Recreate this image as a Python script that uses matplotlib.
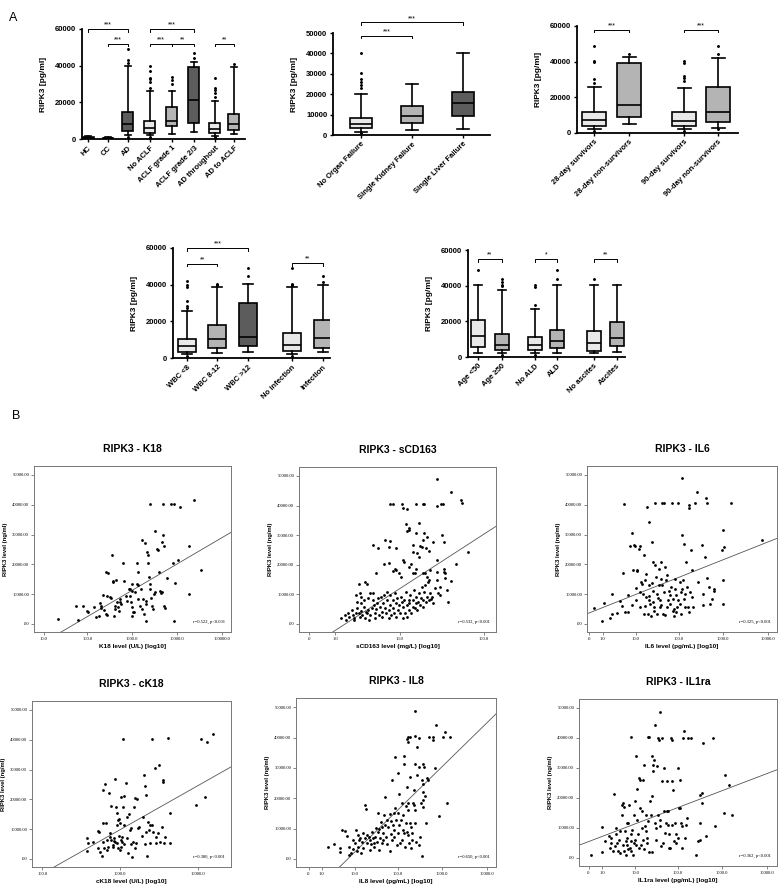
import numpy as np
import matplotlib
matplotlib.use('Agg')
import matplotlib.pyplot as plt
from matplotlib.ticker import NullLocator

plt.rcParams['font.family'] = ['Liberation Sans', 'DejaVu Sans']

# ---------------- Panel A: box plots (RIPK3, pg/ml) ----------------
a1_labels = ['HC', 'CC', 'AD', 'No ACLF', 'ACLF grade 1', 'ACLF grade 2/3', 'AD throughout', 'AD to ACLF']
a1_whislo = [0, 0, 2000, 2000, 2500, 4000, 1800, 3000]
a1_q1 = [300, 200, 4500, 3500, 7000, 9000, 3500, 5000]
a1_med = [600, 450, 8000, 6000, 10000, 21000, 5500, 8000]
a1_q3 = [900, 700, 15000, 10000, 17500, 39000, 8500, 13500]
a1_whishi = [1500, 1000, 40000, 26000, 26000, 42000, 20500, 39500]
a1_fliers = [[], [], [500, 1000, 41500, 43000, 49000],
             [800, 1300, 28000, 31000, 32500, 33500, 37000, 40000],
             [30000, 32000, 34000], [44000, 47000],
             [800, 1200, 23000, 25000, 26500, 28000, 33000], [41000]]
a1_sig = [(0, 2, 60000, '***'), (1, 2, 52000, '***'), (3, 5, 60000, '***'),
          (3, 4, 52000, '***'), (4, 5, 52000, '**'), (6, 7, 52000, '**')]

a2_labels = ['No Organ Failure', 'Single Kidney Failure', 'Single Liver Failure']
a2_whislo = [1500, 2500, 3000]
a2_q1 = [3500, 6000, 9500]
a2_med = [5500, 9500, 15500]
a2_q3 = [8500, 14000, 21000]
a2_whishi = [20000, 25000, 40000]
a2_fliers = [[900, 23000, 24500, 26000, 27500, 30500, 40000], [], []]
a2_sig = [(0, 1, 48700, '***'), (0, 2, 55200, '***')]

a3_labels = ['28-day survivors', '28-day non-survivors', '90-day survivors', '90-day non-survivors']
a3_whislo = [2000, 5000, 2000, 3000]
a3_q1 = [4000, 9000, 4000, 6000]
a3_med = [7500, 15500, 7000, 12000]
a3_q3 = [12000, 39500, 12000, 26000]
a3_whishi = [26000, 42500, 25000, 42000]
a3_fliers = [[1000, 28000, 30500, 40000, 40500, 49000], [44500],
             [1000, 29000, 31000, 32000, 39000, 40500], [2000, 44500, 49000]]
a3_sig = [(0, 1, 58000, '***'), (2, 3, 58000, '***')]

a4_labels = ['WBC <8', 'WBC 8-12', 'WBC >12', 'No infection', 'Infection']
a4_whislo = [2000, 3000, 3500, 2000, 3500]
a4_q1 = [3500, 5500, 6500, 4000, 5500]
a4_med = [6500, 10500, 11500, 7000, 11000]
a4_q3 = [10500, 18000, 30000, 13500, 21000]
a4_whishi = [25500, 38500, 40500, 38500, 40000]
a4_fliers = [[1000, 27500, 28500, 31000, 38500, 40000, 42000], [40000, 40500],
             [44500, 49000], [1000, 39800, 40000, 40200, 49000], [41500, 44500]]
a4_sig = [(0, 2, 60000, '***'), (0, 1, 51500, '**'), (3, 4, 51800, '**')]

a5_labels = ['Age <50', 'Age \u226550', 'No ALD', 'ALD', 'No ascites', 'Ascites']
a5_whislo = [2000, 2000, 2000, 2000, 2000, 3000]
a5_q1 = [5500, 4000, 4000, 5000, 3500, 6000]
a5_med = [12000, 7000, 6500, 9000, 8000, 10500]
a5_q3 = [21000, 13000, 11000, 15000, 14500, 19500]
a5_whishi = [40500, 37500, 27000, 40500, 40500, 40500]
a5_fliers = [[49000], [1000, 40000, 40500, 42000, 44000], [1000, 29000, 39500, 40500],
             [44000, 49000], [44000], []]
a5_sig = [(0, 1, 54800, '**'), (2, 3, 54800, '*'), (4, 5, 54800, '**')]

# ---------------- Panel B: scatter plots ----------------
# x values are log10(x + 1) of the marker level, y values RIPK3 in thousands
k18_logx = [1.36, 1.76, 1.79, 1.91, 1.99, 2.01, 2.15, 2.20, 2.27, 2.28,
            2.30, 2.32, 2.36, 2.37, 2.43, 2.44, 2.44, 2.41, 2.47, 2.56,
            2.57, 2.58, 2.65, 2.52, 2.53, 2.59, 2.61, 2.63, 2.67, 2.68,
            2.70, 2.73, 2.74, 2.76, 2.81, 2.83, 2.87, 2.89, 2.93, 2.95,
            2.96, 2.98, 3.00, 3.01, 3.02, 3.04, 2.99, 3.01, 3.07, 3.10,
            3.11, 3.13, 3.14, 3.13, 3.17, 3.19, 3.22, 3.24, 3.27, 3.30,
            3.30, 3.32, 3.22, 3.28, 3.33, 3.35, 3.36, 3.37, 3.39, 3.41,
            3.42, 3.44, 3.47, 3.48, 3.50, 3.39, 3.50, 3.56, 3.57, 3.61,
            3.63, 3.64, 3.67, 3.66, 3.68, 3.69, 3.72, 3.72, 3.74, 3.78,
            3.87, 3.91, 3.93, 3.93, 3.96, 4.02, 4.07, 4.27, 4.27, 4.38,
            4.54]
k18_ripk3 = [1.7, 5.9, 1.3, 6.1, 4.2, 3.9, 5.6, 2.2, 2.6, 7.0,
             5.2, 6.1, 9.8, 4.6, 3.3, 3.0, 9.4, 17.4, 17.2, 23.2,
             14.4, 14.1, 14.8, 8.9, 8.6, 2.8, 5.0, 6.1, 7.2, 5.6,
             4.2, 7.2, 8.3, 6.7, 20.6, 14.4, 9.4, 7.8, 11.7, 11.7,
             9.4, 7.2, 2.8, 5.6, 3.9, 3.9, 10.9, 13.3, 10.6, 13.3,
             20.3, 13.2, 8.3, 17.4, 6.1, 11.7, 5.0, 8.3, 3.3, 1.1,
             6.7, 7.8, 28.0, 27.0, 24.2, 23.0, 20.6, 15.6, 13.3, 11.7,
             8.7, 6.1, 5.0, 10.0, 10.6, 40.2, 31.3, 25.3, 24.8, 17.4,
             10.9, 10.3, 10.6, 27.4, 40.2, 30.0, 26.1, 6.1, 5.2, 15.3,
             40.3, 20.6, 40.2, 1.1, 13.9, 21.4, 39.2, 26.3, 9.9, 41.7,
             18.0]
k18_fit = (-15300, 8850)

scd163_logx = [1.46, 1.62, 1.74, 1.75, 1.46, 1.51, 1.53, 0.93, 0.96, 1.06,
               1.07, 1.12, 1.23, 1.30, 1.32,
               1.11, 1.14, 1.12, 1.15, 1.26, 1.32, 1.35, 1.22, 1.27, 1.29,
               1.30, 1.19, 1.19, 1.24, 1.34, 1.37, 1.42, 1.52, 1.54, 0.73,
               0.79, 0.87, 0.91, 0.93, 0.99, 1.82, 1.68, 1.62, 1.38, 1.55,
               1.54, 1.56, 1.56, 1.58, 1.59, 1.50, 1.41,
               0.86, 0.92, 0.96, 0.98, 1.00, 1.03, 1.05, 1.08, 1.09, 1.14,
               1.17, 1.19, 1.21, 1.23, 1.26, 1.31, 1.33, 1.35, 1.37, 1.46,
               1.47, 0.77, 0.66, 0.57, 0.64,
               0.37, 0.41, 0.42, 0.45, 0.46, 0.49, 0.50, 0.51, 0.52, 0.54,
               0.55, 0.57, 0.58, 0.59, 0.60, 0.61, 0.63, 0.64, 0.65, 0.66,
               0.68, 0.69, 0.70, 0.72, 0.73, 0.73, 0.74, 0.75, 0.76, 0.77,
               0.78, 0.79, 0.80, 0.81, 0.82, 0.83, 0.84, 0.85, 0.86, 0.87,
               0.88, 0.89, 0.89, 0.91, 0.92, 0.93, 0.93, 0.94, 0.96, 0.96,
               0.97, 0.98, 0.99, 1.00, 1.01, 1.02, 1.03, 1.04, 1.05, 1.06,
               1.07, 1.08, 1.09, 1.10, 1.11, 1.12, 1.12, 1.14, 1.15, 1.15,
               1.16, 1.17, 1.19, 1.19, 1.20, 1.21, 1.22, 1.23, 1.24, 1.25,
               1.26, 1.27, 1.28, 1.29, 1.30, 1.31, 1.32, 1.33, 1.34, 1.35,
               1.36, 1.37, 1.38, 1.40, 1.42, 1.44, 1.46, 1.48, 1.50, 0.68,
               0.70, 0.63, 0.58, 0.60, 0.55, 0.54]
scd163_ripk3 = [48.9, 44.4, 42.0, 40.7, 39.8, 40.4, 40.4, 40.5, 40.5, 40.4,
                39.3, 38.7, 40.5, 40.5, 40.5,
                33.9, 31.9, 31.4, 32.5, 34.2, 30.6, 29.4, 30.6, 26.4, 26.1,
                28.3, 26.6, 24.4, 23.8, 25.5, 24.7, 27.8, 30.0, 27.8, 26.6,
                25.7, 28.3, 26.1, 28.1, 25.5, 24.4, 20.1, 14.5, 18.2, 18.4,
                17.4, 17.1, 15.4, 11.5, 7.5, 9.8, 9.2,
                20.2, 20.5, 18.0, 18.5, 18.3, 17.1, 16.0, 21.6, 21.0, 19.3,
                20.1, 17.3, 17.1, 18.4, 22.7, 17.3, 17.1, 16.0, 14.8, 21.6,
                17.4, 17.3, 13.5, 13.4, 14.3,
                1.9, 3.0, 1.3, 3.6, 2.5, 4.7, 3.0, 1.9, 1.3, 3.6,
                5.3, 3.8, 2.5, 7.0, 4.5, 3.0, 5.8, 1.9, 3.9, 3.6,
                4.7, 1.3, 3.0, 5.3, 8.1, 10.3, 6.4, 3.6, 1.9, 5.1,
                7.0, 8.7, 3.0, 5.8, 9.2, 4.2, 2.5, 7.0, 9.8, 5.3,
                3.6, 8.1, 10.9, 1.9, 4.7, 6.4, 9.8, 3.0, 8.1, 5.3,
                3.6, 10.3, 7.0, 2.5, 8.7, 4.7, 6.4, 3.6, 9.2, 7.5,
                1.9, 5.8, 8.1, 3.6, 10.9, 6.4, 2.5, 8.1, 4.7, 7.0,
                9.8, 3.6, 5.8, 8.1, 11.5, 5.3, 7.0, 9.2, 4.7, 7.5,
                10.3, 6.4, 8.7, 12.6, 8.1, 5.8, 10.9, 13.2, 7.5, 9.2,
                14.3, 8.1, 10.3, 8.3, 7.0, 12.0, 14.8, 10.3, 12.6, 8.7,
                10.6, 8.1, 10.3, 9.2, 7.5, 9.8]
scd163_fit = (-7900, 19100)

il6_logx = [0.11, 0.28, 0.34, 0.47, 0.51, 0.52, 0.62, 0.68, 0.73, 0.76,
            0.79, 0.81, 0.86, 0.88, 0.92, 0.96, 0.98, 1.01, 1.03, 1.05,
            1.07, 1.08, 1.11, 1.13, 1.13, 1.14, 1.16, 1.18, 1.20, 1.22,
            1.23, 1.26, 1.27, 1.28, 1.29, 1.32, 1.33, 1.33, 1.35, 1.37,
            1.38, 1.41, 1.42, 1.43, 1.44, 1.46, 1.48, 1.48, 1.50, 1.52,
            1.53, 1.56, 1.56, 1.58, 1.59, 1.62, 1.63, 1.63, 1.65, 1.67,
            1.68, 1.70, 1.72, 1.74, 1.76, 1.78, 1.82, 1.84, 1.85, 1.88,
            1.88, 1.89, 1.91, 1.93, 1.93, 1.95, 1.97, 1.98, 2.00, 2.03,
            2.04, 2.06, 2.08, 2.08, 2.08, 2.10, 2.12, 2.12, 2.15, 2.17,
            2.19, 2.21, 2.23, 2.23, 2.24, 2.27, 2.28, 2.30, 2.30, 2.33,
            2.38, 2.42, 2.45, 2.53, 2.55, 2.56, 2.59, 2.62, 2.64, 2.65,
            2.68, 2.71, 2.75, 2.79, 2.80, 2.98, 2.99, 3.00, 3.03, 3.00,
            3.18, 3.87, 1.25, 1.35, 1.45, 1.55, 1.62, 1.70, 1.80, 1.95,
            2.05, 2.15, 1.40, 1.60, 1.75, 1.05, 0.95]
il6_ripk3 = [5.4, 1.1, 7.0, 2.0, 3.4, 9.9, 3.6, 7.6, 6.0, 17.1,
             40.2, 3.9, 3.9, 9.6, 26.1, 30.6, 18.2, 26.4, 26.1, 12.0,
             18.0, 17.8, 25.3, 10.7, 26.2, 5.6, 14.1, 13.5, 10.1, 3.4,
             23.0, 14.6, 16.9, 9.0, 39.3, 3.4, 7.9, 34.3, 12.9, 6.7,
             2.8, 27.5, 7.3, 11.2, 20.8, 5.6, 40.5, 19.7, 15.7, 10.1,
             3.4, 12.9, 18.5, 7.9, 5.6, 20.8, 40.5, 12.9, 3.4, 40.5,
             10.7, 19.1, 14.6, 5.6, 7.9, 11.2, 6.7, 12.4, 40.5, 8.4,
             4.5, 5.1, 2.8, 15.2, 11.8, 9.6, 5.6, 40.5, 7.9, 14.1,
             6.7, 10.7, 48.9, 29.8, 11.8, 14.6, 8.4, 26.8, 5.6, 20.8,
             12.4, 5.6, 3.9, 38.8, 39.9, 10.7, 24.7, 9.0, 18.0, 5.6,
             40.5, 44.1, 14.1, 26.4, 10.1, 6.2, 22.3, 42.2, 40.5, 15.5,
             12.4, 6.7, 8.4, 11.8, 11.2, 24.7, 14.6, 31.5, 25.9, 6.7,
             40.5, 28.1, 6.0, 9.5, 4.2, 8.8, 6.5, 3.0, 9.8, 4.0,
             3.5, 10.0, 13.8, 15.0, 16.5, 8.0, 6.5]
il6_fit = (3700, 5940)

ck18_logx = [2.58, 2.59, 2.58, 2.66, 2.72, 2.73, 2.72, 2.74, 2.77, 2.78,
             2.79, 2.79, 2.80, 2.81, 2.82, 2.83, 2.84, 2.85, 2.86, 2.87,
             2.88, 2.89, 2.89, 2.91, 2.91, 2.92, 2.93, 2.94, 2.94, 2.95,
             2.96, 2.97, 2.97, 2.98, 2.98, 2.99, 2.99, 3.00, 3.00, 3.01,
             3.01, 3.02, 3.03, 3.03, 3.04, 3.04, 3.05, 3.06, 3.06, 3.08,
             3.09, 3.09, 3.11, 3.12, 3.13, 3.14, 3.15, 3.16, 3.17, 3.18,
             3.19, 3.19, 3.21, 3.22, 3.24, 3.25, 3.28, 3.30, 3.31, 3.32,
             3.33, 3.34, 3.34, 3.35, 3.36, 3.38, 3.39, 3.39, 3.41, 3.42,
             3.43, 3.45, 3.46, 3.47, 3.49, 3.51, 3.52, 3.54, 3.55, 3.56,
             3.57, 3.58, 3.62, 3.64, 3.65, 3.98, 4.04, 4.10, 4.12, 4.20]
ck18_ripk3 = [6.9, 5.2, 2.8, 5.8, 9.5, 9.2, 3.6, 2.5, 1.0, 5.8,
              23.1, 12.2, 3.6, 25.1, 12.2, 3.0, 6.4, 4.1, 22.3, 8.6,
              7.3, 17.9, 6.4, 4.7, 4.1, 6.9, 6.1, 5.8, 26.7, 17.5,
              11.4, 5.2, 15.3, 13.1, 3.7, 13.3, 7.7, 12.0, 3.0, 4.1,
              20.7, 6.4, 7.5, 5.8, 40.4, 17.3, 11.4, 21.1, 5.0, 25.6,
              6.9, 14.2, 1.9, 15.1, 9.7, 5.0, 10.3, 0.8, 5.8, 17.5,
              20.3, 3.6, 5.2, 20.1, 10.3, 10.6, 7.7, 14.2, 28.1, 5.0,
              24.5, 21.4, 9.2, 1.0, 12.5, 9.7, 11.4, 5.5, 11.4, 40.4,
              9.2, 30.4, 5.2, 7.5, 8.6, 31.5, 5.8, 10.8, 26.5, 25.9,
              5.5, 7.5, 40.7, 5.2, 15.3, 18.1, 40.4, 20.7, 39.3, 41.9]
ck18_fit = (-34500, 14760)

il8_logx = [0.43, 0.58, 0.70, 0.71, 0.75, 0.82, 0.86, 0.90, 0.92, 0.95,
            0.99, 1.01, 1.05, 1.07, 1.08, 1.10, 1.12, 1.14, 1.16, 1.18,
            1.20, 1.22, 1.23, 1.26, 1.27, 1.29, 1.31, 1.32, 1.35, 1.37,
            1.38, 1.40, 1.42, 1.44, 1.46, 1.47, 1.50, 1.52, 1.53, 1.55,
            1.57, 1.59, 1.59, 1.61, 1.62, 1.64, 1.66, 1.67, 1.68, 1.70,
            1.71, 1.72, 1.74, 1.76, 1.77, 1.79, 1.82, 1.83, 1.85, 1.85,
            1.87, 1.88, 1.89, 1.91, 1.92, 1.93, 1.94, 1.95, 1.97, 1.98,
            2.00, 2.00, 2.02, 2.03, 2.04, 2.06, 2.07, 2.09, 2.09, 2.12,
            2.13, 2.15, 2.15, 2.15, 2.17, 2.18, 2.19, 2.21, 2.22, 2.23,
            2.24, 2.24, 2.25, 2.27, 2.28, 2.30, 2.31, 2.32, 2.33, 2.34,
            2.36, 2.37, 2.38, 2.39, 2.41, 2.43, 2.49, 2.52, 2.54, 2.56,
            2.56, 2.58, 2.60, 2.62, 2.63, 2.50, 2.43, 2.23, 2.21, 2.24,
            2.28, 2.38, 2.47, 2.49, 2.54, 2.56, 2.58, 2.65, 2.71, 2.80,
            2.86, 2.80, 2.84, 3.01, 3.07, 3.10, 3.18, 2.39, 2.68, 2.38,
            2.93]
il8_ripk3 = [4.0, 4.9, 3.5, 2.2, 9.5, 9.2, 7.5, 1.3, 4.0, 1.9,
             6.2, 3.2, 5.1, 9.5, 2.7, 7.9, 4.0, 6.2, 6.8, 1.9,
             5.7, 8.4, 3.5, 6.8, 17.9, 16.3, 7.9, 5.1, 7.3, 3.0,
             6.2, 4.9, 9.0, 6.8, 5.1, 4.0, 7.3, 10.1, 5.7, 9.0,
             15.0, 3.0, 9.7, 6.8, 12.3, 5.1, 10.6, 8.4, 6.2, 14.4,
             20.5, 11.2, 7.3, 12.8, 4.9, 10.6, 2.7, 14.7, 8.2, 12.6,
             6.2, 25.9, 11.2, 15.0, 9.5, 7.3, 16.6, 33.6, 12.8, 4.6,
             28.3, 15.0, 8.4, 21.3, 11.2, 5.1, 12.8, 18.3, 6.2, 9.5,
             14.4, 8.4, 33.8, 31.4, 4.0, 17.5, 11.7, 23.7, 9.0, 7.9,
             16.1, 18.3, 5.1, 11.7, 27.0, 3.5, 10.6, 6.2, 8.4, 18.3,
             22.6, 17.7, 16.1, 11.7, 5.4, 27.6, 30.3, 18.3, 25.9, 22.1,
             17.2, 31.4, 30.3, 20.7, 11.9, 7.3, 36.9, 40.2, 39.6, 38.5,
             40.2, 40.4, 39.9, 4.6, 0.8, 19.4, 24.8, 26.5, 40.2, 40.2,
             44.0, 39.3, 29.8, 40.2, 41.8, 18.3, 40.2, 31.4, 25.9, 48.7,
             14.1]
il8_fit = (-12700, 14370)

il1ra_logx = [0.06, 0.29, 0.29, 0.36, 0.46, 0.47, 0.49, 0.51, 0.55, 0.57,
              0.59, 0.61, 0.62, 0.64, 0.66, 0.68, 0.70, 0.71, 0.74, 0.75,
              0.76, 0.77, 0.79, 0.80, 0.81, 0.83, 0.83, 0.85, 0.86, 0.87,
              0.89, 0.89, 0.91, 0.92, 0.94, 0.95, 0.96, 0.96, 0.98, 1.00,
              1.01, 1.02, 1.04, 1.04, 1.06, 1.07, 1.09, 1.09, 1.11, 1.12,
              1.13, 1.15, 1.16, 1.18, 1.19, 1.20, 1.21, 1.22, 1.24, 1.25,
              1.26, 1.28, 1.28, 1.30, 1.31, 1.32, 1.34, 1.35, 1.36, 1.37,
              1.39, 1.41, 1.43, 1.43, 1.45, 1.45, 1.46, 1.49, 1.49, 1.51,
              1.52, 1.54, 1.55, 1.56, 1.58, 1.60, 1.61, 1.62, 1.64, 1.65,
              1.67, 1.69, 1.70, 1.72, 1.73, 1.75, 1.76, 1.77, 1.79, 1.80,
              1.81, 1.82, 1.84, 1.86, 1.88, 1.88, 1.90, 1.91, 1.94, 1.96,
              1.97, 2.00, 2.01, 2.03, 2.05, 2.06, 2.07, 2.09, 2.10, 2.12,
              2.14, 2.16, 2.18, 2.20, 2.24, 2.30, 2.42, 2.46, 2.50, 2.50,
              2.51, 2.54, 2.54, 2.57, 2.63, 2.80, 2.84, 3.04, 3.06, 3.16,
              3.23, 1.60]
il1ra_ripk3 = [1.1, 10.2, 2.0, 5.6, 7.2, 3.3, 5.0, 6.7, 2.2, 21.3,
               3.9, 10.0, 8.0, 5.0, 2.4, 6.1, 1.7, 8.9, 17.8, 14.2,
               18.2, 4.4, 16.9, 2.2, 8.9, 5.6, 1.1, 11.7, 6.7, 4.4,
               2.8, 11.7, 17.8, 3.3, 7.8, 5.6, 2.2, 40.2, 9.4, 1.1,
               5.0, 14.4, 6.1, 18.9, 33.9, 4.2, 23.1, 12.8, 8.0, 26.7,
               3.3, 26.1, 16.7, 4.4, 10.0, 15.6, 6.1, 26.1, 3.1, 31.1,
               10.6, 8.9, 14.4, 5.0, 6.7, 40.3, 12.2, 40.2, 2.0, 18.9,
               14.4, 33.9, 20.6, 2.0, 28.9, 30.9, 32.8, 44.4, 11.7, 10.0,
               6.1, 30.6, 14.2, 40.0, 39.4, 10.6, 12.8, 3.9, 40.0, 25.6,
               5.0, 15.6, 30.0, 8.3, 11.7, 15.6, 25.6, 15.6, 11.1, 3.3,
               8.0, 3.3, 40.0, 39.4, 25.6, 11.1, 22.8, 5.6, 11.7, 8.0,
               5.0, 30.0, 6.7, 16.7, 26.1, 16.7, 11.7, 10.6, 3.3, 40.0,
               42.2, 6.7, 11.1, 13.3, 40.0, 40.0, 1.1, 5.6, 6.1, 21.1,
               11.7, 21.7, 18.3, 38.3, 7.2, 40.0, 10.6, 15.0, 27.8, 24.4,
               14.2, 48.7]
il1ra_fit = (5450, 5660)

LIGHT, MID, DARK = '#e9e9e9', '#b4b4b4', '#5c5c5c'


def safe_log(x):
    x = np.asarray(x, dtype=float)
    return np.sign(x) * np.log10(np.abs(x) + 1)


def safe_exp(u):
    u = np.asarray(u, dtype=float)
    return np.sign(u) * (10 ** np.abs(u) - 1)


def box_panel(rect, pos, labels, whislo, q1, med, q3, whishi, fliers, colors,
              ymax, ystep, xlim, width, sig):
    ax = fig.add_axes(rect)
    stats = [dict(whislo=a, q1=b, med=c, q3=d, whishi=e, fliers=f)
             for a, b, c, d, e, f in zip(whislo, q1, med, q3, whishi, fliers)]
    lw = 1.2
    bp = ax.bxp(stats, positions=pos, widths=width, capwidths=width * 0.55,
                patch_artist=True, manage_ticks=False,
                boxprops=dict(linewidth=lw, edgecolor='black'),
                medianprops=dict(color='black', linewidth=lw),
                whiskerprops=dict(linewidth=lw, color='black'),
                capprops=dict(linewidth=lw, color='black'),
                flierprops=dict(marker='o', markersize=1.1, markerfacecolor='black',
                                markeredgecolor='black', linestyle='none'))
    for patch, c in zip(bp['boxes'], colors):
        patch.set_facecolor(c)
    ax.set_xlim(*xlim)
    ax.set_ylim(0, ymax)
    ax.set_yticks(np.arange(0, ymax + 1, ystep))
    ax.set_yticklabels([str(int(v)) for v in np.arange(0, ymax + 1, ystep)],
                       fontsize=5.5, fontweight='bold')
    ax.set_xticks(pos)
    ax.set_xticklabels(labels, rotation=45, ha='right', rotation_mode='anchor',
                       fontsize=5.5, fontweight='bold')
    ax.tick_params(length=2.5, width=1.0, pad=1.5)
    for s in ['top', 'right']:
        ax.spines[s].set_visible(False)
    for s in ['left', 'bottom']:
        ax.spines[s].set_linewidth(1.3)
    ax.set_ylabel('RIPK3 [pg/ml]', fontsize=6, fontweight='bold', labelpad=6)
    h = ymax * 0.025
    for i, j, lvl, txt in sig:
        ax.plot([pos[i], pos[i], pos[j], pos[j]], [lvl - h, lvl, lvl, lvl - h],
                color='black', lw=0.7, clip_on=False)
        ax.text((pos[i] + pos[j]) / 2, lvl + h * 0.2, txt, ha='center', va='bottom',
                fontsize=5, clip_on=False)
    return ax


def scatter_panel(rect, title, xlabel, logx, ripk3_k, fit, xtick_vals, note, ulim):
    ax = fig.add_axes(rect)
    ax.set_xscale('function', functions=(safe_log, safe_exp))
    x = safe_exp(logx)
    y = np.asarray(ripk3_k) * 1000
    ax.scatter(x, y, s=4, color='black', linewidths=0, zorder=3)
    u = np.linspace(ulim[0], ulim[1], 200)
    ax.plot(safe_exp(u), fit[0] + fit[1] * u, color='#555555', lw=0.6, zorder=2)
    ax.set_xlim(safe_exp(ulim[0]), safe_exp(ulim[1]))
    ax.set_ylim(-2700, 53000)
    ax.set_xticks(xtick_vals)
    ax.set_xticklabels(['.0' if v == 0 else f'{v:.1f}' for v in xtick_vals],
                       fontsize=3.3, family=['Liberation Serif', 'DejaVu Serif'])
    ax.xaxis.set_minor_locator(NullLocator())
    yt = [0, 10000, 20000, 30000, 40000, 50000]
    ax.set_yticks(yt)
    ax.set_yticklabels(['.00' if v == 0 else f'{v:.2f}' for v in yt],
                       fontsize=3.3, family=['Liberation Serif', 'DejaVu Serif'])
    ax.tick_params(length=2, width=0.5, pad=1.5, color='#555555')
    for s in ax.spines.values():
        s.set_linewidth(0.7)
        s.set_color('#777777')
    ax.set_title(title, fontsize=7.5, fontweight='bold', pad=10)
    ax.set_xlabel(xlabel, fontsize=4.6, fontweight='bold', labelpad=2)
    ax.set_ylabel('RIPK3 level (ng/ml)', fontsize=4.2, fontweight='bold', labelpad=3)
    ax.text(0.97, 0.06, note, transform=ax.transAxes, ha='right', va='center',
            fontsize=3.3, family=['Liberation Serif', 'DejaVu Serif'])
    return ax


fig = plt.figure(figsize=(7.78, 8.86), dpi=100)

box_panel([0.1054, 0.8431, 0.2095, 0.1242], [0, 1, 2, 3.1, 4.2, 5.3, 6.35, 7.3],
          a1_labels, a1_whislo, a1_q1, a1_med, a1_q3, a1_whishi, a1_fliers,
          [LIGHT, LIGHT, DARK, LIGHT, MID, DARK, LIGHT, MID],
          60000, 20000, (-0.3, 7.85), 0.55, a1_sig)
box_panel([0.428, 0.8476, 0.2018, 0.1151], [0, 1, 2],
          a2_labels, a2_whislo, a2_q1, a2_med, a2_q3, a2_whishi, a2_fliers,
          [LIGHT, MID, DARK], 50000, 10000, (-0.55, 2.53), 0.44, a2_sig)
box_panel([0.7416, 0.8499, 0.207, 0.1208], [0, 1, 2.57, 3.54],
          a3_labels, a3_whislo, a3_q1, a3_med, a3_q3, a3_whishi, a3_fliers,
          [LIGHT, MID, LIGHT, MID], 60000, 20000, (-0.49, 4.11), 0.67, a3_sig)
box_panel([0.2224, 0.5959, 0.2018, 0.1242], [0, 1, 2.03, 3.5, 4.53],
          a4_labels, a4_whislo, a4_q1, a4_med, a4_q3, a4_whishi, a4_fliers,
          [LIGHT, MID, DARK, LIGHT, MID], 60000, 20000, (-0.47, 4.77), 0.6, a4_sig)
box_panel([0.6015, 0.597, 0.2018, 0.1208], [0, 1.04, 2.48, 3.43, 5.04, 6.04],
          a5_labels, a5_whislo, a5_q1, a5_med, a5_q3, a5_whishi, a5_fliers,
          [LIGHT, MID, LIGHT, MID, LIGHT, MID], 60000, 20000, (-0.43, 6.39), 0.62, a5_sig)

scatter_panel([0.0437, 0.2867, 0.2532, 0.1874], 'RIPK3 - K18', 'K18 level (U/L) [log10]',
              k18_logx, k18_ripk3, k18_fit, [10, 100, 1000, 10000, 100000],
              'r=0.522, p<0.001', (0.82, 5.2))
scatter_panel([0.3843, 0.2867, 0.2532, 0.1862], 'RIPK3 - sCD163', 'sCD163 level (mg/L) [log10]',
              scd163_logx, scd163_ripk3, scd163_fit, [0, 1, 10, 100],
              'r=0.532, p<0.001', (-0.115, 2.14))
scatter_panel([0.7545, 0.2867, 0.2442, 0.1874], 'RIPK3 - IL6', 'IL6 level (pg/mL) [log10]',
              il6_logx, il6_ripk3, il6_fit, [0, 1, 10, 100, 1000, 10000],
              'r=0.325, p<0.001', (-0.05, 4.21))
scatter_panel([0.0411, 0.0214, 0.2558, 0.1874], 'RIPK3 - cK18', 'cK18 level (U/L) [log10]',
              ck18_logx, ck18_ripk3, ck18_fit, [100, 1000, 10000],
              'r=0.380, p<0.001', (1.87, 4.43))
scatter_panel([0.3805, 0.0214, 0.2571, 0.1907], 'RIPK3 - IL8', 'IL8 level (pg/mL) [log10]',
              il8_logx, il8_ripk3, il8_fit, [0, 1, 10, 100, 1000, 10000],
              'r=0.650, p<0.001', (-0.28, 4.21))
scatter_panel([0.7442, 0.0226, 0.2545, 0.1885], 'RIPK3 - IL1ra', 'IL1ra level (pg/mL) [log10]',
              il1ra_logx, il1ra_ripk3, il1ra_fit, [0, 1, 10, 100, 1000, 10000],
              'r=0.362, p<0.001', (-0.22, 4.23))

fig.text(0.011, 0.986, 'A', fontsize=9, va='top')
fig.text(0.016, 0.537, 'B', fontsize=9, va='top')

fig.savefig('out.png', dpi=100)
